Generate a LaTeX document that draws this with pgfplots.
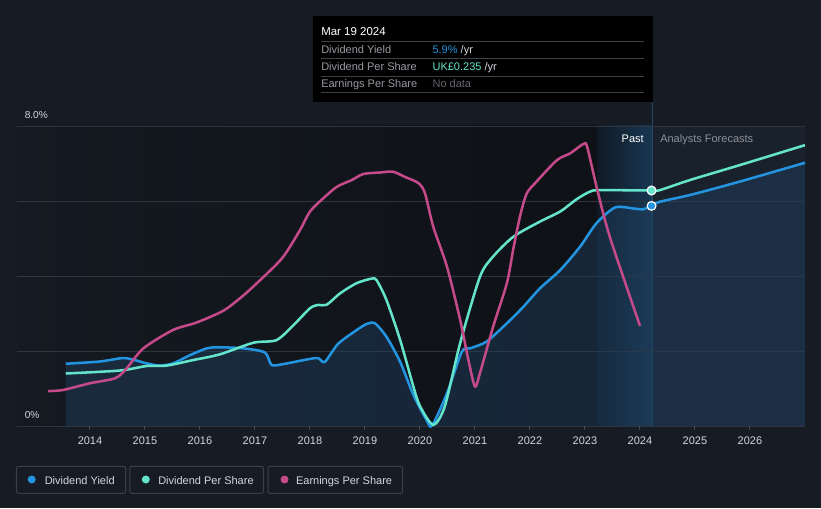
\documentclass[border=0pt]{standalone}
\usepackage{pgfplots}
\pgfplotsset{compat=1.18}
\usepackage{fontspec}
\setmainfont{Liberation Sans}

\definecolor{bg}{RGB}{22,27,36}
\definecolor{pastL}{RGB}{21,26,34}
\definecolor{pastR}{RGB}{14,17,22}
\definecolor{bandL}{RGB}{16,26,37}
\definecolor{bandR}{RGB}{24,55,82}
\definecolor{fcst}{RGB}{25,33,44}
\definecolor{gridc}{RGB}{48,53,61}
\definecolor{tickc}{RGB}{70,75,83}
\definecolor{areac}{RGB}{32,64,96}
\definecolor{dy}{RGB}{35,148,223}
\definecolor{dps}{RGB}{100,228,202}
\definecolor{eps}{RGB}{197,74,138}
\definecolor{lbl}{RGB}{150,154,160}
\definecolor{txt}{RGB}{212,215,220}
\definecolor{boxline}{RGB}{58,63,72}

% pixel coordinates of the 821x508 reference, origin top left
\tikzset{px/.style={x=0.75pt,y=-0.75pt,shift={(-12.75pt,319.5pt)}}}
\newcommand{\f}{\fontsize{8.25pt}{9.9pt}\selectfont}

\begin{document}
\begin{tikzpicture}

% backgrounds
\begin{scope}[px]
\fill[bg] (0,0) rectangle (821,508);
\shade[left color=pastL, right color=pastR] (17,126) rectangle (597,426);
\shade[left color=bandL, right color=bandR] (597,126) rectangle (652,426);
\fill[fcst] (652,126) rectangle (805,426);
\draw[color={rgb,255:red,38;green,72;blue,102}, line width=0.75pt] (652,101.7) -- (652,426);
\end{scope}

\begin{axis}[
at={(0,0)}, anchor=south west,
scale only axis,
width=591pt, height=225pt,
xmin=2012.673, xmax=2027,
ymin=0, ymax=8,
axis line style={draw=none},
ytick={0,2,4,6,8},
yticklabels={},
ytick style={draw=none},
ymajorgrids,
grid style={draw=gridc, line width=0.75pt},
xtick={2014,...,2026},
xtick pos=left,
xtick align=outside,
major tick length=3pt,
xtick style={draw=tickc, line width=0.75pt},
/pgf/number format/assume math mode=true,
x tick label style={font=\f, text=txt, /pgf/number format/1000 sep={}, yshift=-1.5pt},
clip=false,
]

% Dividend Yield area
\addplot[draw=none, fill=areac, fill opacity=0.45, smooth, tension=0.45]
coordinates{
(2013.56,1.66) (2014.18,1.72) (2014.58,1.81) (2014.76,1.78) (2015.03,1.67)
(2015.27,1.61) (2015.51,1.67) (2015.82,1.89) (2016.12,2.07) (2016.33,2.10)
(2016.79,2.07) (2017.18,1.96) (2017.30,1.63) (2017.51,1.65) (2018.00,1.79)
(2018.15,1.81) (2018.27,1.71) (2018.51,2.19) (2018.85,2.56) (2019.03,2.72)
(2019.18,2.74) (2019.39,2.38) (2019.64,1.71) (2019.88,0.83) (2020.12,0.16)
(2020.22,0.01) (2020.49,0.87) (2020.76,1.98) (2020.91,2.07) (2021.21,2.25)
(2021.58,2.74) (2021.88,3.18) (2022.18,3.67) (2022.55,4.16) (2022.91,4.78)
(2023.21,5.41) (2023.55,5.83) (2023.88,5.80) (2024.05,5.78) (2024.21,5.87)
(2024.36,5.98) (2024.91,6.16) (2025.82,6.52) (2027.00,7.02)
} \closedcycle;

% Dividend Yield
\addplot[dy, line width=1.9pt, smooth, tension=0.45]
coordinates{
(2013.56,1.66) (2014.18,1.72) (2014.58,1.81) (2014.76,1.78) (2015.03,1.67)
(2015.27,1.61) (2015.51,1.67) (2015.82,1.89) (2016.12,2.07) (2016.33,2.10)
(2016.79,2.07) (2017.18,1.96) (2017.30,1.63) (2017.51,1.65) (2018.00,1.79)
(2018.15,1.81) (2018.27,1.71) (2018.51,2.19) (2018.85,2.56) (2019.03,2.72)
(2019.18,2.74) (2019.39,2.38) (2019.64,1.71) (2019.88,0.83) (2020.12,0.16)
(2020.22,0.01) (2020.49,0.87) (2020.76,1.98) (2020.91,2.07) (2021.21,2.25)
(2021.58,2.74) (2021.88,3.18) (2022.18,3.67) (2022.55,4.16) (2022.91,4.78)
(2023.21,5.41) (2023.55,5.83) (2023.88,5.80) (2024.05,5.78) (2024.21,5.87)
(2024.36,5.98) (2024.91,6.16) (2025.82,6.52) (2027.00,7.02)
};

% Dividend Per Share
\addplot[dps, line width=1.9pt, smooth, tension=0.45]
coordinates{
(2013.56,1.40) (2014.55,1.48) (2015.03,1.60) (2015.39,1.61) (2015.88,1.76)
(2016.36,1.91) (2016.97,2.22) (2017.39,2.29) (2017.70,2.69) (2018.00,3.14)
(2018.15,3.23) (2018.30,3.23) (2018.55,3.54) (2018.85,3.81) (2019.12,3.93)
(2019.21,3.89) (2019.39,3.36) (2019.64,2.29) (2019.88,1.05) (2020.00,0.53)
(2020.24,0.03) (2020.45,0.52) (2020.73,2.21) (2021.09,3.98) (2021.33,4.52)
(2021.70,5.05) (2022.18,5.45) (2022.55,5.72) (2022.85,6.05) (2023.09,6.25)
(2023.27,6.29) (2024.21,6.28) (2024.36,6.29) (2024.91,6.56) (2025.82,6.96)
(2027.00,7.49)
};

% Earnings Per Share
\addplot[eps, line width=1.9pt, smooth, tension=0.45]
coordinates{
(2013.24,0.93) (2013.51,0.96) (2014.00,1.14) (2014.45,1.27) (2014.64,1.49)
(2014.97,2.07) (2015.51,2.56) (2015.94,2.76) (2016.42,3.07) (2016.73,3.41)
(2016.97,3.72) (2017.49,4.47) (2017.82,5.23) (2018.00,5.72) (2018.24,6.07)
(2018.49,6.38) (2018.76,6.56) (2018.97,6.72) (2019.27,6.76) (2019.51,6.78)
(2019.73,6.64) (2019.97,6.48) (2020.09,6.21) (2020.24,5.32) (2020.49,4.25)
(2020.73,2.83) (2020.88,1.76) (2021.00,1.05) (2021.09,1.41) (2021.33,2.65)
(2021.58,3.81) (2021.70,4.75) (2021.82,5.60) (2021.94,6.20) (2022.12,6.52)
(2022.49,7.09) (2022.73,7.27) (2022.97,7.52) (2023.04,7.44) (2023.21,6.38)
(2023.45,5.05) (2024.00,2.67)
};

% current values
\addplot[only marks, mark=*, mark size=3.3pt, mark options={fill=dps, draw=white, line width=0.9pt}]
coordinates{(2024.21,6.28)};
\addplot[only marks, mark=*, mark size=3.3pt, mark options={fill=dy, draw=white, line width=0.9pt}]
coordinates{(2024.21,5.87)};
\end{axis}

\begin{scope}[px]
% y labels
\node[anchor=base west, inner sep=0, text=txt, font=\fontsize{7.6pt}{9pt}\selectfont] at (24.5,118.3) {8.0\%};
\node[anchor=base west, inner sep=0, text=txt, font=\fontsize{7.6pt}{9pt}\selectfont] at (24.5,418.3) {0\%};
% past / forecast
\node[anchor=base east, inner sep=0, text=white, font=\f] at (644,142.7) {Past};
\node[anchor=base west, inner sep=0, text={rgb,255:red,140;green,145;blue,152}, font=\f] at (660,142.7) {Analysts Forecasts};

% tooltip
\fill[black] (312.5,16) rectangle (652.5,101.7);
\foreach \yy in {41.3,58.3,76.3,93} \draw[color={rgb,255:red,62;green,65;blue,70}, line width=0.75pt] (320.7,\yy) -- (644.3,\yy);
\node[anchor=base west, inner sep=0, text=white, font=\fontsize{8.6pt}{10pt}\selectfont] at (321,35.7) {Mar 19 2024};
\node[anchor=base west, inner sep=0, text=lbl, font=\f] at (321,54) {Dividend Yield};
\node[anchor=base west, inner sep=0, text=lbl, font=\f] at (321,70.7) {Dividend Per Share};
\node[anchor=base west, inner sep=0, text=lbl, font=\f] at (321,87.7) {Earnings Per Share};
\node[anchor=base west, inner sep=0, font=\f] at (432.3,54) {\textcolor{dy}{5.9\%} \textcolor{txt}{/yr}};
\node[anchor=base west, inner sep=0, font=\f] at (432.3,70.7) {\textcolor{dps}{UK£0.235} \textcolor{txt}{/yr}};
\node[anchor=base west, inner sep=0, text={rgb,255:red,100;green,104;blue,110}, font=\f] at (432.3,87.7) {No data};

% legend
\draw[boxline, line width=0.75pt, rounded corners=1.5pt] (16.5,466.3) rectangle (125.7,493.3);
\draw[boxline, line width=0.75pt, rounded corners=1.5pt] (129.8,466.3) rectangle (263.4,493.3);
\draw[boxline, line width=0.75pt, rounded corners=1.5pt] (268,466.3) rectangle (402.6,493.3);
\fill[dy] (31.7,479.5) circle[radius=4];
\fill[dps] (145.8,479.5) circle[radius=4];
\fill[eps] (284.5,479.5) circle[radius=4];
\node[anchor=base west, inner sep=0, text=txt, font=\f] at (44.5,484) {Dividend Yield};
\node[anchor=base west, inner sep=0, text=txt, font=\f] at (158,484) {Dividend Per Share};
\node[anchor=base west, inner sep=0, text=txt, font=\f] at (295.8,484) {Earnings Per Share};
\end{scope}

\pgfresetboundingbox
\path[px] (0,0) rectangle (821,508);
\end{tikzpicture}
\end{document}
